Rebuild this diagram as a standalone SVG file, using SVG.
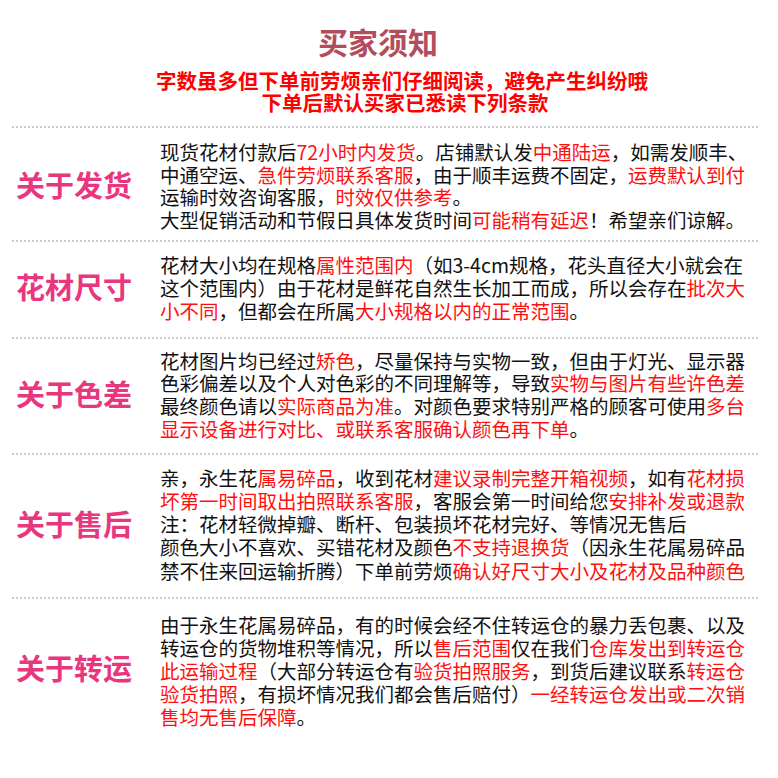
<svg xmlns="http://www.w3.org/2000/svg" width="778" height="778" viewBox="0 0 778 778">
<style>
text{font-family:"Noto Sans CJK SC","Noto Sans",sans-serif}
.b{font-size:19.5px;fill:#111}
.r{fill:#ff1010}
.h{font-size:29px;font-weight:bold;fill:#e8367f}
.d{stroke:#999;stroke-width:1.2;stroke-dasharray:2 2}
</style>
<rect width="778" height="778" fill="#fff"/>
<g id="header">
<text x="378" y="54" text-anchor="middle" font-size="30" font-weight="bold" fill="#b34d5e">买家须知</text>
<text x="402" y="89" text-anchor="middle" font-size="20.5" font-weight="bold" fill="#ff0000">字数虽多但下单前劳烦亲们仔细阅读，避免产生纠纷哦</text>
<text x="405" y="111" text-anchor="middle" font-size="20.5" font-weight="bold" fill="#ff0000">下单后默认买家已悉读下列条款</text>
</g>
<g id="dividers">
<line class="d" x1="12" y1="127" x2="760" y2="127"/>
<line class="d" x1="12" y1="241" x2="760" y2="241"/>
<line class="d" x1="12" y1="338" x2="760" y2="338"/>
<line class="d" x1="12" y1="454" x2="760" y2="454"/>
<line class="d" x1="12" y1="598" x2="760" y2="598"/>
</g>
<g id="s1">
<text class="h" x="16" y="197">关于发货</text>
<text class="b" x="160" y="160">现货花材付款后<tspan class="r">72小时内发货</tspan>。店铺默认发<tspan class="r">中通陆运</tspan>，如需发顺丰、</text>
<text class="b" x="160" y="183">中通空运、<tspan class="r">急件劳烦联系客服</tspan>，由于顺丰运费不固定，<tspan class="r">运费默认到付</tspan></text>
<text class="b" x="160" y="205">运输时效咨询客服，<tspan class="r">时效仅供参考</tspan>。</text>
<text class="b" x="160" y="228">大型促销活动和节假日具体发货时间<tspan class="r">可能稍有延迟</tspan>！希望亲们谅解。</text>
</g>
<g id="s2">
<text class="h" x="16" y="299">花材尺寸</text>
<text class="b" x="160" y="273">花材大小均在规格<tspan class="r">属性范围内</tspan>（如3-4cm规格，花头直径大小就会在</text>
<text class="b" x="160" y="296">这个范围内）由于花材是鲜花自然生长加工而成，所以会存在<tspan class="r">批次大</tspan></text>
<text class="b" x="160" y="319"><tspan class="r">小不同</tspan>，但都会在所属<tspan class="r">大小规格以内的正常范围</tspan>。</text>
</g>
<g id="s3">
<text class="h" x="16" y="406">关于色差</text>
<text class="b" x="160" y="369">花材图片均已经过<tspan class="r">矫色</tspan>，尽量保持与实物一致，但由于灯光、显示器</text>
<text class="b" x="160" y="391">色彩偏差以及个人对色彩的不同理解等，导致<tspan class="r">实物与图片有些许色差</tspan></text>
<text class="b" x="160" y="414">最终颜色请以<tspan class="r">实际商品为准</tspan>。对颜色要求特别严格的顾客可使用<tspan class="r">多台</tspan></text>
<text class="b" x="160" y="437"><tspan class="r">显示设备进行对比、或联系客服确认颜色再下单</tspan>。</text>
</g>
<g id="s4">
<text class="h" x="16" y="536">关于售后</text>
<text class="b" x="160" y="486">亲，永生花<tspan class="r">属易碎品</tspan>，收到花材<tspan class="r">建议录制完整开箱视频</tspan>，如有<tspan class="r">花材损</tspan></text>
<text class="b" x="160" y="509"><tspan class="r">坏第一时间取出拍照联系客服</tspan>，客服会第一时间给您<tspan class="r">安排补发或退款</tspan></text>
<text class="b" x="160" y="532">注：花材轻微掉瓣、断杆、包装损坏花材完好、等情况无售后</text>
<text class="b" x="160" y="555">颜色大小不喜欢、买错花材及颜色<tspan class="r">不支持退换货</tspan>（因永生花属易碎品</text>
<text class="b" x="160" y="579">禁不住来回运输折腾）下单前劳烦<tspan class="r">确认好尺寸大小及花材及品种颜色</tspan></text>
</g>
<g id="s5">
<text class="h" x="16" y="680">关于转运</text>
<text class="b" x="160" y="633">由于永生花属易碎品，有的时候会经不住转运仓的暴力丢包裹、以及</text>
<text class="b" x="160" y="656">转运仓的货物堆积等情况，所以<tspan class="r">售后范围</tspan>仅在我们<tspan class="r">仓库发出到转运仓</tspan></text>
<text class="b" x="160" y="679"><tspan class="r">此运输过程</tspan>（大部分转运仓有<tspan class="r">验货拍照服务</tspan>，到货后建议联系<tspan class="r">转运仓</tspan></text>
<text class="b" x="160" y="702"><tspan class="r">验货拍照</tspan>，有损坏情况我们都会售后赔付）<tspan class="r">一经转运仓发出或二次销</tspan></text>
<text class="b" x="160" y="725"><tspan class="r">售均无售后保障</tspan>。</text>
</g>
</svg>
